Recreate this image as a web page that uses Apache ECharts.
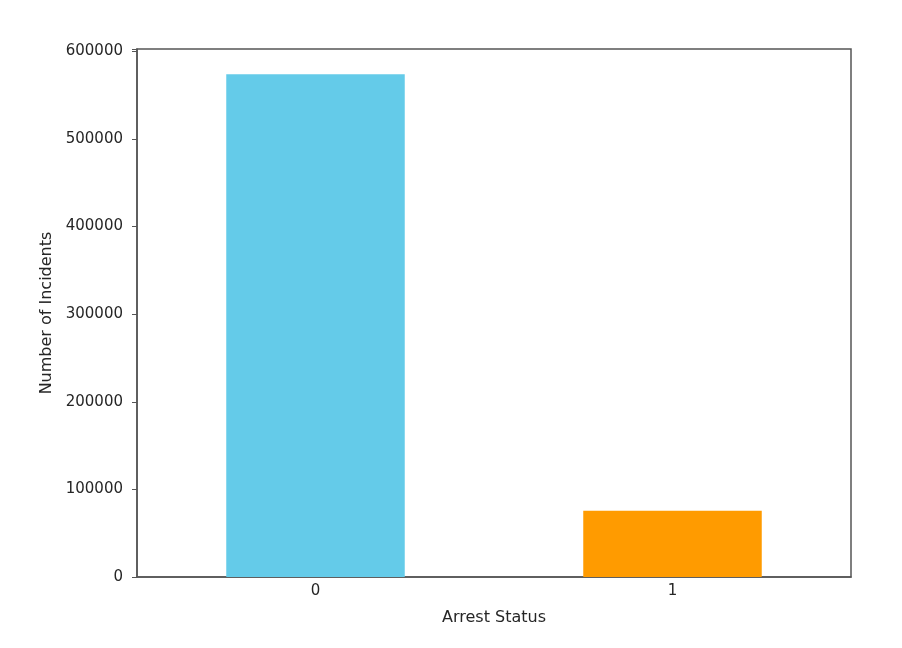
<!DOCTYPE html>
<html>
<head>
<meta charset="utf-8">
<script src="https://cdn.jsdelivr.net/npm/echarts@6/dist/echarts.min.js"></script>
<style>html,body{margin:0;padding:0;background:#fff;}#c{width:902px;height:648px;}</style>
</head>
<body>
<div id="c"></div>
<script>
const categories = ['0', '1'];
const incidents = [574000, 75500];
const barColors = ['#64CBE9', '#FF9B00'];
const yTicks = [0, 100000, 200000, 300000, 400000, 500000, 600000];

const chart = echarts.init(document.getElementById('c'));
const axisCol = '#555';
const txt = '#262626';
chart.setOption({
  animation: false,
  backgroundColor: '#fff',
  grid: { left: 137, right: 51, top: 49, bottom: 71, show: true, borderColor: axisCol, borderWidth: 1.5, backgroundColor: 'transparent' },
  xAxis: {
    type: 'category',
    data: categories,
    name: 'Arrest Status',
    nameLocation: 'middle',
    nameGap: 33,
    nameTextStyle: { fontFamily: 'DejaVu Sans', fontSize: 16, color: txt },
    axisLine: { lineStyle: { color: axisCol, width: 1.5 } },
    axisTick: { alignWithLabel: true, length: 5, lineStyle: { color: axisCol } },
    axisLabel: { fontFamily: 'DejaVu Sans', fontSize: 15, color: txt, margin: 7 }
  },
  yAxis: {
    type: 'value',
    min: 0,
    max: 602700,
    interval: 100000,
    name: 'Number of Incidents',
    nameLocation: 'middle',
    nameGap: 81,
    nameRotate: 90,
    nameTextStyle: { fontFamily: 'DejaVu Sans', fontSize: 16, color: txt },
    axisLine: { show: true, lineStyle: { color: axisCol, width: 1.5 } },
    axisTick: { show: true, length: 5, lineStyle: { color: axisCol } },
    splitLine: { show: false },
    axisLabel: {
      fontFamily: 'DejaVu Sans', fontSize: 15, color: txt, margin: 14,
      showMaxLabel: true,
      formatter: v => (yTicks.indexOf(v) >= 0 ? String(v) : '')
    }
  },
  series: [{
    type: 'bar',
    data: incidents.map((v, i) => ({ value: v, itemStyle: { color: barColors[i] } })),
    barWidth: '50%'
  }]
});
</script>
</body>
</html>
